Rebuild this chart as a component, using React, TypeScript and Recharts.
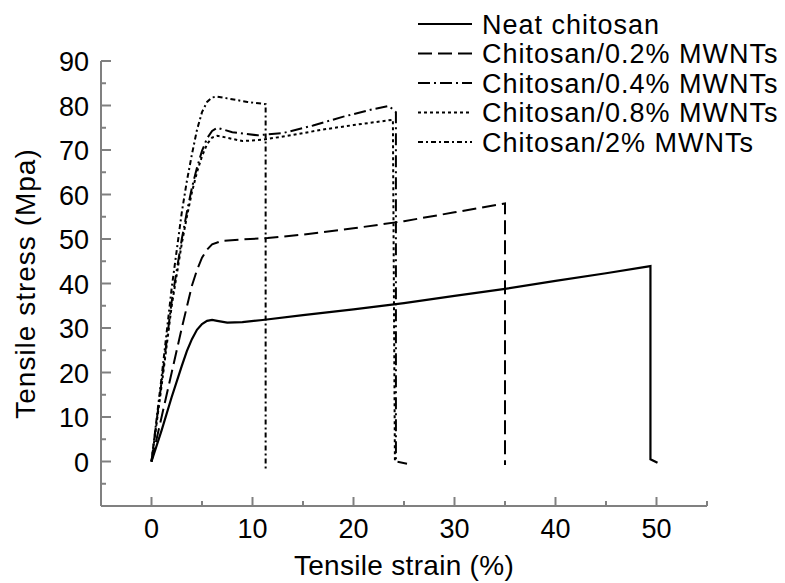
import React from "react"
import { LineChart, Line, XAxis, YAxis } from "recharts"

const FONT = "'Liberation Sans', Arial, Helvetica, sans-serif"
const AXIS = "#808080"

const xTicks = [0, 5, 10, 15, 20, 25, 30, 35, 40, 45, 50, 55]
const yTicks = [-5, 0, 5, 10, 15, 20, 25, 30, 35, 40, 45, 50, 55, 60, 65, 70, 75, 80, 85, 90]

// strain (%), stress (MPa)
const neat = [
  { x: 0, y: 0 }, { x: 1, y: 7 }, { x: 2, y: 14.5 }, { x: 3, y: 21.5 }, { x: 3.5, y: 24.8 },
  { x: 4, y: 27.5 }, { x: 4.5, y: 29.6 }, { x: 5, y: 30.9 }, { x: 5.5, y: 31.6 },
  { x: 6, y: 31.8 }, { x: 6.5, y: 31.6 }, { x: 7.5, y: 31.2 }, { x: 9, y: 31.3 },
  { x: 11, y: 31.8 }, { x: 15, y: 32.9 }, { x: 20, y: 34.2 }, { x: 25, y: 35.6 },
  { x: 30, y: 37.2 }, { x: 35, y: 38.8 }, { x: 40, y: 40.6 }, { x: 45, y: 42.3 },
  { x: 49.4, y: 43.9 }, { x: 49.4, y: 0.5 }, { x: 50.1, y: -0.3 },
]

const mwnt02 = [
  { x: 0, y: 0 }, { x: 1, y: 10 }, { x: 2, y: 20 }, { x: 3, y: 30 }, { x: 4, y: 39.5 },
  { x: 4.5, y: 43 }, { x: 5, y: 45.8 }, { x: 5.5, y: 47.6 }, { x: 6, y: 48.8 },
  { x: 7, y: 49.6 }, { x: 9, y: 49.9 }, { x: 11.5, y: 50.2 }, { x: 15, y: 51 },
  { x: 20, y: 52.4 }, { x: 25, y: 54 }, { x: 30, y: 56 }, { x: 35, y: 58 }, { x: 35, y: -0.8 },
]

const mwnt04 = [
  { x: 0, y: 0 }, { x: 1, y: 18 }, { x: 2, y: 36 }, { x: 3, y: 50 }, { x: 3.5, y: 56 },
  { x: 4, y: 61.5 }, { x: 4.5, y: 66 }, { x: 5, y: 69.8 }, { x: 5.5, y: 72.6 },
  { x: 6, y: 74.3 }, { x: 6.5, y: 75 }, { x: 8, y: 74 }, { x: 10.5, y: 73.3 },
  { x: 13, y: 73.8 }, { x: 16, y: 75.5 }, { x: 19, y: 77.5 }, { x: 22, y: 79.2 },
  { x: 23.5, y: 79.9 }, { x: 24.2, y: 78.5 }, { x: 24.2, y: 0 }, { x: 25.3, y: -0.5 },
]

const mwnt08 = [
  { x: 0, y: 0 }, { x: 1, y: 17 }, { x: 2, y: 35 }, { x: 3, y: 49 }, { x: 3.5, y: 55 },
  { x: 4, y: 60.5 }, { x: 4.5, y: 65 }, { x: 5, y: 68.6 }, { x: 5.5, y: 71.3 },
  { x: 6, y: 72.8 }, { x: 6.5, y: 73.2 }, { x: 7, y: 73 }, { x: 9, y: 72 },
  { x: 11, y: 72.3 }, { x: 14, y: 73.4 }, { x: 17, y: 74.6 }, { x: 20, y: 75.6 },
  { x: 23.9, y: 76.8 }, { x: 24.1, y: 0 },
]

const mwnt2 = [
  { x: 0, y: 0 }, { x: 1, y: 19 }, { x: 2, y: 39 }, { x: 3, y: 56 }, { x: 3.5, y: 63 },
  { x: 4, y: 69 }, { x: 4.5, y: 74.5 }, { x: 5, y: 78.5 }, { x: 5.5, y: 80.8 },
  { x: 6, y: 81.8 }, { x: 6.5, y: 82 }, { x: 7.5, y: 81.6 }, { x: 9.5, y: 80.8 },
  { x: 11.3, y: 80.3 }, { x: 11.3, y: -1.8 },
]

const series = [
  { name: "Neat chitosan", data: neat, dash: undefined, width: 2.2 },
  { name: "Chitosan/0.2% MWNTs", data: mwnt02, dash: "14 6", width: 2 },
  { name: "Chitosan/0.4% MWNTs", data: mwnt04, dash: "12 4 2 4", width: 2 },
  { name: "Chitosan/0.8% MWNTs", data: mwnt08, dash: "3 3", width: 2 },
  { name: "Chitosan/2% MWNTs", data: mwnt2, dash: "5 3 2 3", width: 2 },
]

function fmt(v: number) {
  return v < 0 ? `\u2212${Math.abs(v)}` : `${v}`
}

function XTick(props: any) {
  const { x, y, payload } = props
  const major = payload.value % 10 === 0
  return (
    <g>
      <line x1={x} x2={x} y1={y} y2={y - (major ? 9 : 5)} stroke={AXIS} strokeWidth={2} />
      {major && (
        <text x={x} y={y + 32} textAnchor="middle" fontSize={27} fontFamily={FONT} fill="#000">
          {fmt(payload.value)}
        </text>
      )}
    </g>
  )
}

function YTick(props: any) {
  const { x, y, payload } = props
  const major = payload.value % 10 === 0
  return (
    <g>
      <line x1={x} x2={x + (major ? 10 : 5)} y1={y} y2={y} stroke={AXIS} strokeWidth={2} />
      {major && (
        <text x={x - 12} y={y + 10} textAnchor="end" fontSize={27} fontFamily={FONT} fill="#000">
          {fmt(payload.value)}
        </text>
      )}
    </g>
  )
}

function YLabel(props: any) {
  const { viewBox } = props
  const cy = viewBox.y + viewBox.height / 2
  return (
    <text x={35} y={cy} transform={`rotate(-90, 35, ${cy})`} textAnchor="middle" fontSize={28} letterSpacing={1} fontFamily={FONT} fill="#000">
      Tensile stress (Mpa)
    </text>
  )
}

function XLabel(props: any) {
  const { viewBox } = props
  const cx = viewBox.x + viewBox.width / 2
  return (
    <text x={cx} y={viewBox.y + 69} textAnchor="middle" fontSize={28} letterSpacing={0.3} fontFamily={FONT} fill="#000">
      Tensile strain (%)
    </text>
  )
}

function ChartLegend() {
  return (
    <svg width={785} height={170} style={{ position: "absolute", left: 0, top: 0, pointerEvents: "none" }}>
      {series.map((s, i) => {
        const cy = 24 + i * 29.5
        return (
          <g key={s.name}>
            <line x1={418} x2={472} y1={cy} y2={cy} stroke="#000" strokeWidth={2} strokeDasharray={s.dash} />
            <text x={482} y={cy + 9.5} fontSize={27} letterSpacing={1} fontFamily={FONT} fill="#000">
              {s.name}
            </text>
          </g>
        )
      })}
    </svg>
  )
}

export default function App() {
  return (
    <div style={{ position: "absolute", left: 0, top: 0, width: 785, height: 583, background: "#fff" }}>
      <LineChart width={785} height={583} margin={{ top: 61, right: 78, bottom: 0, left: 0 }}>
        <XAxis
          type="number"
          dataKey="x"
          domain={[-5, 55]}
          ticks={xTicks}
          interval={0}
          height={77}
          tickSize={0}
          tickMargin={0}
          tickLine={false}
          axisLine={{ stroke: AXIS, strokeWidth: 2 }}
          tick={<XTick />}
          label={<XLabel />}
        />
        <YAxis
          type="number"
          domain={[-10, 90]}
          ticks={yTicks}
          interval={0}
          width={101}
          tickSize={0}
          tickMargin={0}
          tickLine={false}
          axisLine={{ stroke: AXIS, strokeWidth: 2 }}
          tick={<YTick />}
          label={<YLabel />}
        />
        {series.map((s) => (
          <Line
            key={s.name}
            data={s.data}
            dataKey="y"
            name={s.name}
            type="linear"
            stroke="#000"
            strokeWidth={s.width}
            strokeDasharray={s.dash}
            dot={false}
            activeDot={false}
            isAnimationActive={false}
          />
        ))}
      </LineChart>
      <ChartLegend />
    </div>
  )
}
